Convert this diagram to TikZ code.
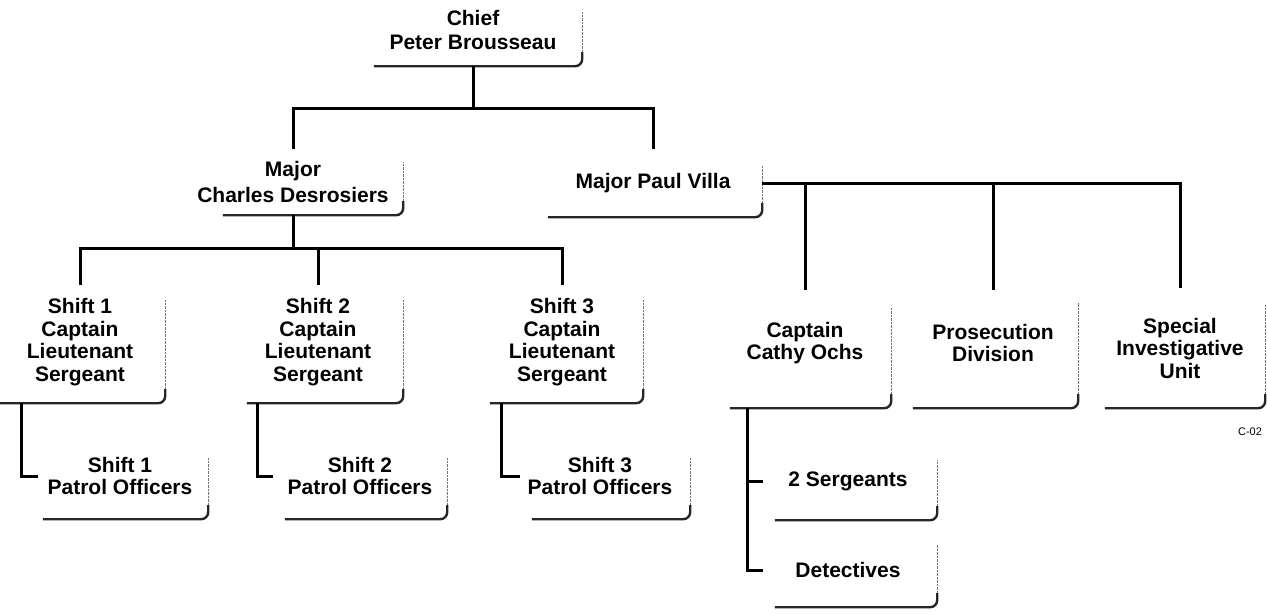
\documentclass[tikz,border=0pt]{standalone}
\usepackage{fontspec}
\setmainfont{Liberation Sans}
\begin{document}
\begin{tikzpicture}[x=1pt,y=-1pt,
  orgbox/.style={inner sep=0pt, align=center, font=\bfseries\fontsize{21}{22.5}\selectfont},
  conn/.style={line width=3pt, black},
  bot/.style={line width=2.4pt, black!85, rounded corners=7pt},
  rgt/.style={line width=1.2pt, black!55, dash pattern=on 2.5pt off 1pt}]
\useasboundingbox (0,0) rectangle (1267,614);
\fill[white] (0,0) rectangle (1267,614);
\newcommand\boxedges[3]{%
  \draw[bot] ([xshift=#2pt]#1.south west) -- (#1.south east) -- ([yshift=14pt]#1.south east);
  \draw[rgt] ([yshift=14pt]#1.south east) -- ([yshift=-#3pt]#1.north east);}
% nodes
\node[orgbox, minimum width=218pt, minimum height=72pt] (chief) at (473,30) {Chief\\[1.5pt]Peter Brousseau};
\node[orgbox, minimum width=220pt, minimum height=66pt] (mcd) at (293,182) {Major\\[4pt]Charles Desrosiers};
\node[orgbox, minimum width=218pt, minimum height=68pt] (mpv) at (653,183) {Major Paul Villa};
\node[orgbox, minimum width=170pt, minimum height=122pt] (s1) at (80,342) {Shift 1\\Captain\\Lieutenant\\Sergeant};
\node[orgbox, minimum width=170pt, minimum height=122pt] (s2) at (318,342) {Shift 2\\Captain\\Lieutenant\\Sergeant};
\node[orgbox, minimum width=162pt, minimum height=122pt] (s3) at (562,342) {Shift 3\\Captain\\Lieutenant\\Sergeant};
\node[orgbox, minimum width=176pt, minimum height=86pt] (p1) at (120,476) {Shift 1\\Patrol Officers};
\node[orgbox, minimum width=174pt, minimum height=86pt] (p2) at (360,476) {Shift 2\\Patrol Officers};
\node[orgbox, minimum width=180pt, minimum height=86pt] (p3) at (600,476) {Shift 3\\Patrol Officers};
\node[orgbox, minimum width=172pt, minimum height=130pt] (cco) at (805,343) {Captain\\Cathy Ochs};
\node[orgbox, minimum width=170pt, minimum height=130pt] (pro) at (993,343) {Prosecution\\Division};
\node[orgbox, minimum width=170pt, minimum height=120pt] (siu) at (1180,348) {Special\\Investigative\\Unit};
\node[orgbox, minimum width=178pt, minimum height=78pt] (sgt) at (848,481) {2 Sergeants};
\node[orgbox, minimum width=178pt, minimum height=74pt] (det) at (848,570) {Detectives};
\node[inner sep=0pt, font=\fontsize{11}{13}\selectfont] (c02) at (1250,432) {C-02};
% box edges
\boxedges{chief}{10}{18}
\boxedges{mcd}{40}{13}
\boxedges{mpv}{4}{16}
\boxedges{s1}{5}{19}
\boxedges{s2}{14}{19}
\boxedges{s3}{9}{19}
\boxedges{p1}{11}{25}
\boxedges{p2}{12}{25}
\boxedges{p3}{22}{25}
\boxedges{cco}{11}{30}
\boxedges{pro}{5}{25}
\boxedges{siu}{10}{17}
\boxedges{sgt}{16}{18}
\boxedges{det}{16}{12}
% connectors
\coordinate (j1) at (473,108);
\draw[conn] (chief.south) -- (j1);
\draw[conn] (mcd.north) -- (mcd.north |- j1) -- (mpv.north |- j1) -- (mpv.north);
\coordinate (j2) at (293,248);
\draw[conn] (mcd.south) -- (j2);
\draw[conn] ([yshift=-4pt]s1.north) -- (s1.north |- j2) -- (s3.north |- j2) -- ([yshift=-4pt]s3.north);
\draw[conn] (s2.north |- j2) -- ([yshift=-4pt]s2.north);
\draw[conn] (mpv.east) -- (mpv.east -| siu.north) -- (siu.north);
\draw[conn] (cco.north |- mpv.east) -- ([yshift=-12pt]cco.north);
\draw[conn] (pro.north |- mpv.east) -- ([yshift=-12pt]pro.north);
\draw[conn] ([xshift=27pt]s1.south west) |- ([xshift=6pt]p1.west);
\draw[conn] ([xshift=25pt]s2.south west) |- (p2.west);
\draw[conn] ([xshift=21pt]s3.south west) |- ([xshift=10pt]p3.west);
\coordinate (cv) at ([xshift=29pt]cco.south west);
\draw[conn] (cv) |- ([xshift=4pt]det.west);
\draw[conn] (cv |- sgt.west) -- ([xshift=4pt]sgt.west);
\end{tikzpicture}
\end{document}
